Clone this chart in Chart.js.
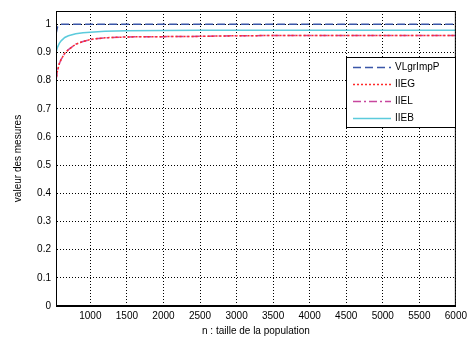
<!DOCTYPE html>
<html>
<head>
<meta charset="utf-8">
<script src="https://cdn.jsdelivr.net/npm/chart.js@4/dist/chart.umd.min.js"></script>
<style>
  html, body { margin: 0; padding: 0; background: #fff; }
  #wrap { width: 471px; height: 337px; }
</style>
</head>
<body>
<div id="wrap"><canvas id="chart" width="471" height="337"></canvas></div>
<script>
// population sizes (x) and measured values for each series
const nValues = [530, 550, 575, 600, 650, 700, 800, 900, 1000, 1200, 1500, 2000, 2500, 3000, 3500, 4000, 4500, 5000, 5500, 6000];
const vlgrImpP = [0.965, 0.99, 0.998, 1, 1, 1, 1, 1, 1, 1, 1, 1, 1, 1, 1, 1, 1, 1, 1, 1];
const iieg = [0.80, 0.835, 0.86, 0.875, 0.897, 0.91, 0.929, 0.939, 0.946, 0.952, 0.955, 0.956, 0.957, 0.959, 0.96, 0.96, 0.96, 0.96, 0.96, 0.96];
const iiel = [0.80, 0.835, 0.86, 0.875, 0.897, 0.91, 0.929, 0.939, 0.946, 0.952, 0.955, 0.956, 0.957, 0.959, 0.96, 0.96, 0.96, 0.96, 0.96, 0.96];
const iieb = [0.90, 0.918, 0.932, 0.941, 0.953, 0.959, 0.966, 0.970, 0.972, 0.975, 0.977, 0.978, 0.979, 0.979, 0.979, 0.979, 0.979, 0.979, 0.979, 0.979];

const xTicks = [1000, 1500, 2000, 2500, 3000, 3500, 4000, 4500, 5000, 5500, 6000];
const yTicks = [0, 0.1, 0.2, 0.3, 0.4, 0.5, 0.6, 0.7, 0.8, 0.9, 1];

const FONT = "'Liberation Sans', Arial, sans-serif";

function points(ys) {
  return nValues.map((n, i) => ({ x: n, y: ys[i] }));
}

// legend box drawn inside the plot, MATLAB style
const boxLegend = {
  id: "boxLegend",
  afterDraw(chart) {
    const ctx = chart.ctx;
    const area = chart.chartArea;
    ctx.save();
    // full frame around the plot
    ctx.strokeStyle = "#000";
    ctx.lineWidth = 1;
    ctx.setLineDash([]);
    ctx.strokeRect(area.left + 0.5, area.top + 0.5, area.right - area.left - 1, area.bottom - area.top - 1);

    const bx = 346, by = 57, bw = 109, bh = 70;
    ctx.fillStyle = "#fff";
    ctx.fillRect(bx, by, bw, bh);
    ctx.strokeRect(bx + 0.5, by + 0.5, bw, bh);
    ctx.font = "10px " + FONT;
    ctx.textBaseline = "middle";
    chart.data.datasets.forEach((ds, i) => {
      const y = by + 10 + i * 17 + 0.5;
      ctx.strokeStyle = ds.borderColor;
      ctx.lineWidth = ds.borderWidth;
      ctx.setLineDash(ds.borderDash || []);
      ctx.beginPath();
      ctx.moveTo(bx + 7, y);
      ctx.lineTo(bx + 45, y);
      ctx.stroke();
      ctx.fillStyle = "#000";
      ctx.fillText(ds.label, bx + 49, y);
    });
    ctx.restore();
  }
};

new Chart(document.getElementById("chart"), {
  type: "line",
  data: {
    datasets: [
      { label: "VLgrImpP", data: points(vlgrImpP), borderColor: "#3a56a8", borderWidth: 1.5, borderDash: [8, 4] },
      { label: "IIEG", data: points(iieg), borderColor: "#ff2a2a", borderWidth: 1.5, borderDash: [2, 2] },
      { label: "IIEL", data: points(iiel), borderColor: "#c8479e", borderWidth: 1.5, borderDash: [8, 3, 2, 3] },
      { label: "IIEB", data: points(iieb), borderColor: "#5ccbdc", borderWidth: 1.5 }
    ]
  },
  options: {
    responsive: false,
    animation: false,
    layout: { padding: { top: 9, right: 6, left: 0, bottom: 0 } },
    elements: { point: { radius: 0 }, line: { tension: 0 } },
    plugins: { legend: { display: false }, tooltip: { enabled: false } },
    scales: {
      x: {
        type: "linear",
        min: 530,
        max: 6000,
        afterBuildTicks: (axis) => { axis.ticks = xTicks.map(v => ({ value: v })); },
        afterFit: (axis) => { axis.height = 31; },
        ticks: { color: "#000", font: { family: FONT, size: 10 }, padding: 4, maxRotation: 0, callback: (v) => String(v) },
        grid: { color: "#000", lineWidth: 1, drawTicks: false },
        border: { color: "#000", width: 1, dash: [1, 2] },
        title: { display: true, text: "n : taille de la population", color: "#000", font: { family: FONT, size: 10 }, padding: { top: 0, bottom: 0 } }
      },
      y: {
        min: 0,
        max: 1.047,
        afterBuildTicks: (axis) => { axis.ticks = yTicks.map(v => ({ value: v })); },
        afterFit: (axis) => { axis.width = 56; },
        ticks: { color: "#000", font: { family: FONT, size: 10 }, padding: 5, callback: (v) => String(v) },
        grid: { color: "#000", lineWidth: 1, drawTicks: false },
        border: { color: "#000", width: 1, dash: [1, 2] },
        title: { display: true, text: "valeur des mesures", color: "#000", font: { family: FONT, size: 10 }, padding: { top: 12, bottom: 0 } }
      }
    }
  },
  plugins: [boxLegend]
});
</script>
</body>
</html>
